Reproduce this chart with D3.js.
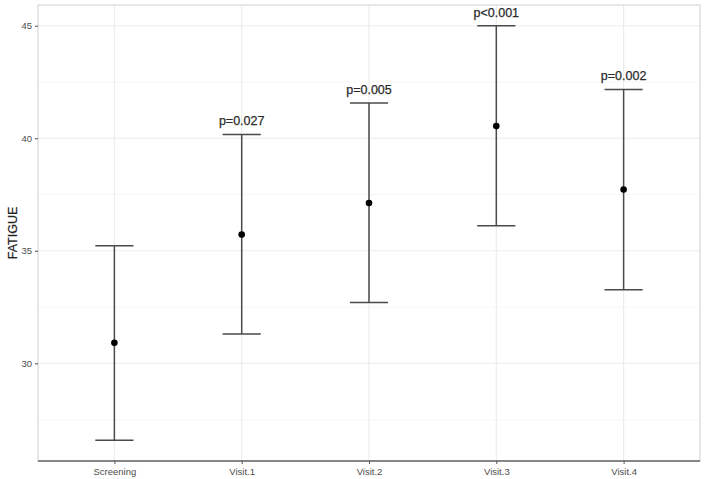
<!DOCTYPE html>
<html><head><meta charset="utf-8">
<script src="https://cdn.jsdelivr.net/npm/d3@7/dist/d3.min.js"></script>
<style>body{margin:0;background:#fff}svg{display:block}text{font-family:"Liberation Sans",Arial,sans-serif}</style>
</head><body><svg id="c" width="708" height="479"></svg>
<script>
const categories = ["Screening","Visit.1","Visit.2","Visit.3","Visit.4"];
const means = [30.91, 35.72, 37.12, 40.54, 37.72];
const lowers = [26.58, 31.30, 32.70, 36.11, 33.27];
const uppers = [35.22, 40.17, 41.57, 45.00, 42.17];
const pLabels = ["", "p=0.027", "p=0.005", "p<0.001", "p=0.002"];
const yTicks = [30, 35, 40, 45];
const yMinor = [27.5, 32.5, 37.5, 42.5];

const svg = d3.select("#c");
const L = 38, R = 700, T = 5, B = 461;
const lo = d3.min(lowers), hi = d3.max(uppers), pad = (hi - lo) * 0.05;
const y = d3.scaleLinear().domain([lo - pad, hi + pad]).range([B, T]);
const x = d3.scalePoint().domain(categories).range([L, R]).padding(0.6);
const band = x.step();

svg.append("rect").attr("x", L).attr("y", T).attr("width", R - L).attr("height", B - T).attr("fill", "#fff");
svg.append("g").selectAll("line").data(yMinor).join("line")
  .attr("x1", L).attr("x2", R).attr("y1", d => y(d)).attr("y2", d => y(d))
  .attr("stroke", "#f2f2f2").attr("stroke-width", 0.6);
svg.append("g").selectAll("line").data(yTicks).join("line")
  .attr("x1", L).attr("x2", R).attr("y1", d => y(d)).attr("y2", d => y(d))
  .attr("stroke", "#ebebeb").attr("stroke-width", 1.1);
svg.append("g").selectAll("line").data(categories).join("line")
  .attr("x1", d => x(d)).attr("x2", d => x(d)).attr("y1", T).attr("y2", B)
  .attr("stroke", "#ebebeb").attr("stroke-width", 1.1);

const data = categories.map((c, i) => ({c, m: means[i], lo: lowers[i], hi: uppers[i], p: pLabels[i]}));
const g = svg.append("g").attr("stroke", "#4a4a4a").attr("stroke-width", 1.5);
const hw = band * 0.15;
g.selectAll(".v").data(data).join("line").attr("x1", d => x(d.c)).attr("x2", d => x(d.c)).attr("y1", d => y(d.lo)).attr("y2", d => y(d.hi));
g.selectAll(".t").data(data).join("line").attr("x1", d => x(d.c) - hw).attr("x2", d => x(d.c) + hw).attr("y1", d => y(d.hi)).attr("y2", d => y(d.hi));
g.selectAll(".b").data(data).join("line").attr("x1", d => x(d.c) - hw).attr("x2", d => x(d.c) + hw).attr("y1", d => y(d.lo)).attr("y2", d => y(d.lo));
svg.append("g").selectAll("circle").data(data).join("circle")
  .attr("cx", d => x(d.c)).attr("cy", d => y(d.m)).attr("r", 3.3).attr("fill", "#000");
svg.append("g").selectAll("text").data(data.filter(d => d.p)).join("text")
  .attr("x", d => x(d.c)).attr("y", d => y(d.hi) - 9).attr("text-anchor", "middle")
  .attr("font-size", 12.5).attr("fill", "#2a2a2a").attr("stroke", "#2a2a2a").attr("stroke-width", 0.25).text(d => d.p);

svg.append("rect").attr("x", L).attr("y", T).attr("width", R - L).attr("height", B - T)
  .attr("fill", "none").attr("stroke", "#d0d0d0").attr("stroke-width", 1);
svg.append("line").attr("x1", L).attr("x2", R).attr("y1", B).attr("y2", B).attr("stroke", "#666").attr("stroke-width", 1.4);

const ya = svg.append("g").attr("transform", `translate(${L},0)`)
  .call(d3.axisLeft(y).tickValues(yTicks).tickSize(3).tickPadding(3));
ya.select(".domain").remove();
ya.selectAll("line").attr("stroke", "#555");
ya.selectAll("text").attr("font-size", 9.5).attr("fill", "#4d4d4d").style("font-family", '"Liberation Sans",Arial,sans-serif');
const xa = svg.append("g").attr("transform", `translate(0,${B})`)
  .call(d3.axisBottom(x).tickSize(3).tickPadding(4));
xa.select(".domain").remove();
xa.selectAll("line").attr("stroke", "#555");
xa.selectAll("text").attr("font-size", 9.5).attr("fill", "#4d4d4d").style("font-family", '"Liberation Sans",Arial,sans-serif');

svg.append("text").attr("transform", `translate(17,${(T + B) / 2}) rotate(-90)`)
  .attr("text-anchor", "middle").attr("font-size", 12.5).attr("fill", "#222")
  .attr("stroke", "#222").attr("stroke-width", 0.2).text("FATIGUE");
</script></body></html>
